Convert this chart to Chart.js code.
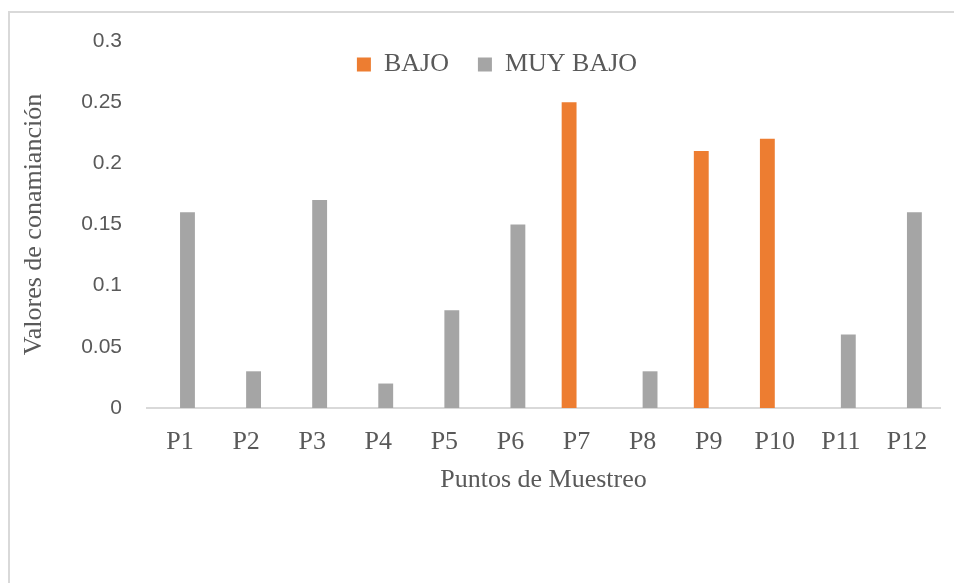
<!DOCTYPE html>
<html>
<head>
<meta charset="utf-8">
<script src="https://cdn.jsdelivr.net/npm/chart.js@4.4.1/dist/chart.umd.min.js"></script>
<style>
  html, body { margin: 0; padding: 0; background: #fff; }
  #wrap { position: relative; width: 954px; height: 583px; overflow: hidden; }
  #frame { position: absolute; left: 8px; top: 11px; width: 1000px; height: 700px; border: 2px solid #d9d9d9; box-sizing: border-box; }
  canvas { position: absolute; left: 0; top: 0; }
</style>
</head>
<body>
<div id="wrap">
  <div id="frame"></div>
  <canvas id="chart" width="954" height="583"></canvas>
</div>
<script>
// puntos de muestreo
const categories = ["P1", "P2", "P3", "P4", "P5", "P6", "P7", "P8", "P9", "P10", "P11", "P12"];
const bajo = [null, null, null, null, null, null, 0.25, null, 0.21, 0.22, null, null];
const muyBajo = [0.16, 0.03, 0.17, 0.02, 0.08, 0.15, null, 0.03, null, null, 0.06, 0.16];
const yTicks = [0, 0.05, 0.1, 0.15, 0.2, 0.25, 0.3];

const serif = "'Liberation Serif', 'Times New Roman', serif";
const sans = "'Liberation Sans', Arial, sans-serif";
const textColor = "#595959";
const legendPad = 29;

// legend sits inside the plot like in Excel: take no room in the layout,
// then move it to its place
const legendPlace = {
  id: "legendPlace",
  beforeLayout(chart) {
    const lg = chart.legend;
    if (!lg || lg._patched) return;
    const fit = lg.fit.bind(lg);
    lg.fit = function () {
      fit();
      this._realHeight = this.height;
      this.height = 0;
    };
    lg._patched = true;
  },
  afterLayout(chart) {
    const lg = chart.legend;
    if (!lg) return;
    const dx = 497 - (lg.left + lg.right) / 2;
    lg.left += dx;
    lg.right += dx;
    lg.height = lg._realHeight;
    lg.top = 64 - legendPad - 12.6;
    lg.bottom = lg.top + lg.height;
  }
};

new Chart(document.getElementById("chart"), {
  type: "bar",
  data: {
    labels: categories,
    datasets: [
      { label: "BAJO", data: bajo, backgroundColor: "#ED7D31" },
      { label: "MUY BAJO", data: muyBajo, backgroundColor: "#A5A5A5" }
    ]
  },
  options: {
    responsive: false,
    animation: false,
    categoryPercentage: 0.45,
    barPercentage: 1,
    layout: { padding: { left: 10, right: 14, top: 41, bottom: 0 } },
    plugins: {
      tooltip: { enabled: false },
      legend: {
        position: "top",
        align: "center",
        labels: {
          boxWidth: 14,
          boxHeight: 14,
          padding: legendPad,
          color: textColor,
          font: { family: serif, size: 26 }
        }
      }
    },
    scales: {
      x: {
        grid: { display: false, drawTicks: false },
        border: { display: true, color: "#d9d9d9", width: 2 },
        ticks: { color: textColor, font: { family: serif, size: 26 }, padding: 19, maxRotation: 0 },
        title: {
          display: true,
          text: "Puntos de Muestreo",
          color: textColor,
          font: { family: serif, size: 26 },
          padding: { top: 0, bottom: 87 }
        },
        afterFit(scale) { scale.height = 175; }
      },
      y: {
        min: 0,
        max: 0.3,
        grid: { display: false, drawTicks: false },
        border: { display: false },
        afterBuildTicks(scale) { scale.ticks = yTicks.map(v => ({ value: v })); },
        ticks: {
          color: textColor,
          font: { family: sans, size: 21 },
          padding: 25,
          callback: v => String(+Number(v).toFixed(2))
        },
        title: {
          display: true,
          text: "Valores de conamianción",
          color: textColor,
          font: { family: serif, size: 26 },
          padding: { top: 9, bottom: 0 }
        },
        afterFit(scale) { scale.width = 137; }
      }
    }
  },
  plugins: [legendPlace]
});
</script>
</body>
</html>
